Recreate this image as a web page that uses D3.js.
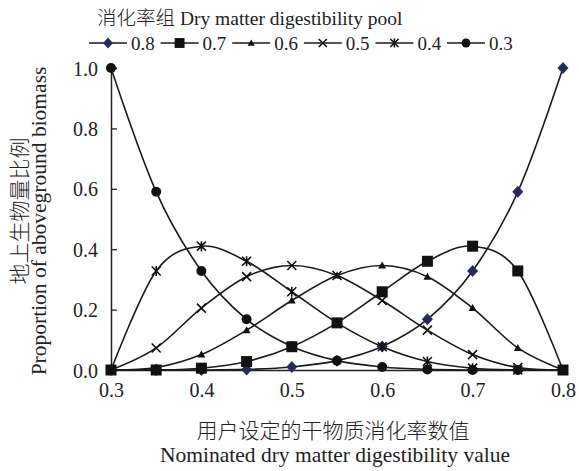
<!DOCTYPE html>
<html><head><meta charset="utf-8">
<script src="https://cdn.jsdelivr.net/npm/d3@7"></script>
<style>
body{margin:0;background:#fff;}
</style></head>
<body><svg id="c" width="579" height="471"></svg>
<script>
const xValues = [0.3,0.35,0.4,0.45,0.5,0.55,0.6,0.65,0.7,0.75,0.8];
const xTicks = [0.3,0.4,0.5,0.6,0.7,0.8];
const yTicks = [0.0,0.2,0.4,0.6,0.8,1.0];
const seriesNames = ["0.8","0.7","0.6","0.5","0.4","0.3"];
const s08 = [0,0,0,0.002,0.010,0.031,0.078,0.168,0.328,0.590,1.0];
const s07 = [0,0,0.006,0.028,0.077,0.156,0.259,0.360,0.410,0.328,0];
const s06 = [0,0.008,0.051,0.132,0.230,0.313,0.346,0.309,0.205,0.073,0];
const s05 = [0,0.073,0.205,0.309,0.346,0.313,0.230,0.132,0.051,0.008,0];
const s04 = [0,0.328,0.410,0.360,0.259,0.156,0.077,0.028,0.006,0,0];
const s03 = [1.0,0.590,0.328,0.168,0.078,0.031,0.010,0.002,0,0,0];
const seriesValues = [s08,s07,s06,s05,s04,s03];
const markers = ["diamond","square","triangle","cross","asterisk","circle"];
const markerFill = ["#262a5c","#111","#111","#111","#111","#111"];

const SERIF = "Liberation Serif";
const CJK = "Noto Sans CJK SC";
const TXT = "#222";

const svg = d3.select("#c");
const x = d3.scaleLinear().domain([0.3,0.8]).range([111,563]);
const y = d3.scaleLinear().domain([0,1]).range([370,68]);

// axes
const yAxis = d3.axisLeft(y).tickValues(yTicks).tickFormat(d3.format(".1f")).tickSize(-6).tickPadding(13);
const gy = svg.append("g").attr("transform","translate(111,0)").call(yAxis);
gy.attr("font-family",null);
gy.select(".domain").attr("stroke","#222").attr("stroke-width",1.5);
gy.selectAll(".tick line").attr("stroke","#222").attr("stroke-width",1.3);
gy.selectAll(".tick text").style("font-family",SERIF).style("font-size","20px").style("fill",TXT).attr("dy","0.35em");

const xAxis = d3.axisBottom(x).tickValues(xTicks).tickFormat(d3.format(".1f")).tickSize(0).tickPadding(13);
const gx = svg.append("g").attr("transform","translate(0,370)").call(xAxis);
gx.attr("font-family",null);
gx.select(".domain").attr("stroke","#222").attr("stroke-width",1.5);
gx.selectAll(".tick text").style("font-family",SERIF).style("font-size","20px").style("fill",TXT);

// lines
const line = d3.line().x((d,i)=>x(xValues[i])).y(d=>y(d)).curve(d3.curveCatmullRom.alpha(0));

function drawMarker(g, type, fill, cx, cy, scale){
  const s = scale||1;
  if(type==="diamond"){
    g.append("path").attr("d",`M${cx},${cy-6*s}L${cx+5.5*s},${cy}L${cx},${cy+6*s}L${cx-5.5*s},${cy}Z`).attr("fill",fill);
  } else if(type==="square"){
    g.append("rect").attr("x",cx-5.5*s).attr("y",cy-5.5*s).attr("width",11*s).attr("height",11*s).attr("fill",fill);
  } else if(type==="triangle"){
    g.append("path").attr("d",`M${cx},${cy-4*s}L${cx+4*s},${cy+3*s}L${cx-4*s},${cy+3*s}Z`).attr("fill",fill);
  } else if(type==="cross"){
    g.append("path").attr("d",`M${cx-4.5*s},${cy-4.5*s}L${cx+4.5*s},${cy+4.5*s}M${cx+4.5*s},${cy-4.5*s}L${cx-4.5*s},${cy+4.5*s}`).attr("stroke",fill).attr("stroke-width",1.6);
  } else if(type==="asterisk"){
    g.append("path").attr("d",`M${cx-4.5*s},${cy-4.5*s}L${cx+4.5*s},${cy+4.5*s}M${cx+4.5*s},${cy-4.5*s}L${cx-4.5*s},${cy+4.5*s}M${cx},${cy-5*s}L${cx},${cy+5*s}`).attr("stroke",fill).attr("stroke-width",1.6);
  } else if(type==="circle"){
    g.append("circle").attr("cx",cx).attr("cy",cy).attr("r",5*s).attr("fill",fill);
  }
}

seriesValues.forEach((vals,k)=>{
  const g = svg.append("g");
  g.append("path").attr("d",line(vals)).attr("fill","none").attr("stroke","#1a1a1a").attr("stroke-width",1.6);
  vals.forEach((v,i)=>drawMarker(g, markers[k], markerFill[k], x(xValues[i]), y(v), 1));
});

// legend
const title = svg.append("text").attr("x",97).attr("y",25).style("font-size","19.5px").style("fill",TXT);
title.append("tspan").style("font-family",CJK).style("font-weight","300").text("消化率组");
title.append("tspan").style("font-family",SERIF).text(" Dry matter digestibility pool");
const lg = svg.append("g");
seriesNames.forEach((n,k)=>{
  const x0 = 89 + k*71.6;
  lg.append("line").attr("x1",x0).attr("x2",x0+38).attr("y1",43).attr("y2",43).attr("stroke","#1a1a1a").attr("stroke-width",1.6);
  drawMarker(lg, markers[k], markerFill[k], x0+19, 43, 0.9);
  lg.append("text").attr("x",x0+42).attr("y",49.5).style("font-family",SERIF).style("font-size","19px").style("fill",TXT).text(n);
});

// axis titles
svg.append("text").attr("x",333).attr("y",438).attr("text-anchor","middle").style("font-size","21px").style("fill",TXT)
  .style("font-family",CJK).style("font-weight","300").text("用户设定的干物质消化率数值");
svg.append("text").attr("x",335).attr("y",462).attr("text-anchor","middle").style("font-size","21.5px").style("fill",TXT)
  .style("font-family",SERIF).text("Nominated dry matter digestibility value");
svg.append("text").attr("transform","translate(27,211) rotate(-90)").attr("text-anchor","middle").style("font-size","21px").style("fill",TXT)
  .style("font-family",CJK).style("font-weight","300").text("地上生物量比例");
svg.append("text").attr("transform","translate(46,221) rotate(-90)").attr("text-anchor","middle").style("font-size","21.5px").style("fill",TXT)
  .style("font-family",SERIF).text("Proportion of aboveground biomass");
</script></body></html>
